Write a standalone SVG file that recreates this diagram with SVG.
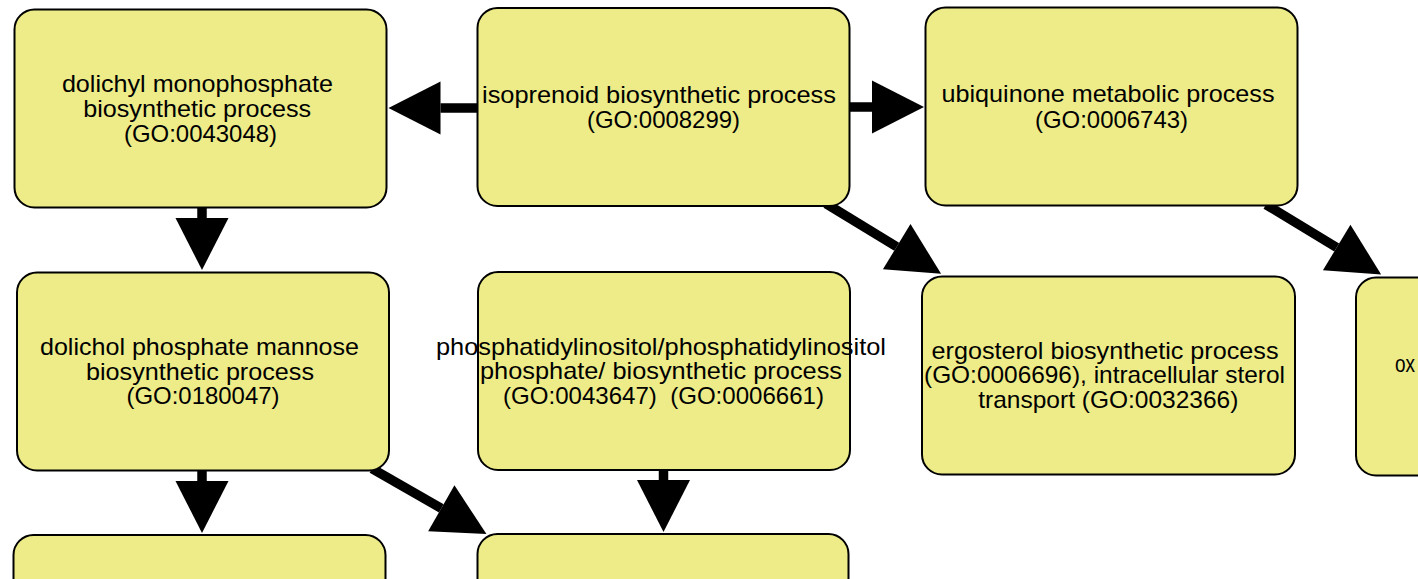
<svg xmlns="http://www.w3.org/2000/svg" width="1418" height="579" viewBox="0 0 1418 579">
  <style>
    .node rect { fill: #EDEC88; stroke: #000; stroke-width: 2; }
    .node text { font-family: "Liberation Sans", Arial, sans-serif; font-size: 24px; fill: #000; text-anchor: middle; }
    .edge { stroke: #000; stroke-width: 9.5; fill: none; marker-end: url(#arrow); }
  </style>
  <defs>
    <marker id="arrow" markerUnits="userSpaceOnUse" markerWidth="52" markerHeight="53" viewBox="0 -26.5 52 53" refX="0" refY="0" orient="auto" overflow="visible">
      <path d="M0,-26.5 L52,0 L0,26.5 Z" fill="#000"/>
    </marker>
  </defs>
  <rect x="0" y="0" width="1418" height="579" fill="#FFFFFF"/>
  <g id="connectors">
    <path class="edge" d="M480,108 L440.5,108"/>
    <path class="edge" d="M846,107 L872,107"/>
    <path class="edge" d="M202,204 L202,218"/>
    <path class="edge" d="M202,467 L202,481"/>
    <path class="edge" d="M663.5,467 L663.5,480"/>
    <path class="edge" d="M372,468.7 L441.3,508.3"/>
    <path class="edge" d="M826,203.6 L896.7,246.7"/>
    <path class="edge" d="M1266,204.6 L1336.7,247.5"/>
  </g>
  <g id="n_dolichyl_monophosphate" class="node">
    <rect x="14.5" y="9.5" width="372" height="198" rx="20"/>
    <text x="197.4" y="92" textLength="271" lengthAdjust="spacingAndGlyphs">dolichyl monophosphate</text>
    <text x="197.2" y="117" textLength="228" lengthAdjust="spacingAndGlyphs">biosynthetic process</text>
    <text x="200.5" y="141.5" textLength="153" lengthAdjust="spacingAndGlyphs">(GO:0043048)</text>
  </g>
  <g id="n_isoprenoid" class="node">
    <rect x="477.5" y="8" width="372" height="198" rx="20"/>
    <text x="659" y="102.5" textLength="354" lengthAdjust="spacingAndGlyphs">isoprenoid biosynthetic process</text>
    <text x="663.5" y="128" textLength="153" lengthAdjust="spacingAndGlyphs">(GO:0008299)</text>
  </g>
  <g id="n_ubiquinone" class="node">
    <rect x="925.5" y="7.5" width="372" height="198" rx="20"/>
    <text x="1108" y="102" textLength="333" lengthAdjust="spacingAndGlyphs">ubiquinone metabolic process</text>
    <text x="1111.5" y="127.5" textLength="153" lengthAdjust="spacingAndGlyphs">(GO:0006743)</text>
  </g>
  <g id="n_dolichol_phosphate_mannose" class="node">
    <rect x="17" y="272.5" width="372" height="198" rx="20"/>
    <text x="199.5" y="355" textLength="319" lengthAdjust="spacingAndGlyphs">dolichol phosphate mannose</text>
    <text x="200" y="379.5" textLength="228" lengthAdjust="spacingAndGlyphs">biosynthetic process</text>
    <text x="203" y="404" textLength="153" lengthAdjust="spacingAndGlyphs">(GO:0180047)</text>
  </g>
  <g id="n_phosphatidylinositol" class="node">
    <rect x="478" y="272" width="372" height="198" rx="20"/>
    <text x="661" y="354.5" textLength="450" lengthAdjust="spacingAndGlyphs">phosphatidylinositol/phosphatidylinositol</text>
    <text x="661" y="379" textLength="362" lengthAdjust="spacingAndGlyphs">phosphate/ biosynthetic process</text>
    <text x="663.5" y="403.5" textLength="321" lengthAdjust="spacingAndGlyphs">(GO:0043647)&#160; (GO:0006661)</text>
  </g>
  <g id="n_ergosterol" class="node">
    <rect x="922" y="276.5" width="373" height="198" rx="20"/>
    <text x="1105" y="358.5" textLength="347" lengthAdjust="spacingAndGlyphs">ergosterol biosynthetic process</text>
    <text x="1104.5" y="383" textLength="361" lengthAdjust="spacingAndGlyphs">(GO:0006696), intracellular sterol</text>
    <text x="1108.3" y="407.5" textLength="260" lengthAdjust="spacingAndGlyphs">transport (GO:0032366)</text>
  </g>
  <g id="n_ox" class="node">
    <rect x="1356" y="277.5" width="140" height="198" rx="20"/>
    <text x="1395" y="372" textLength="20" lengthAdjust="spacingAndGlyphs" style="text-anchor:start">ox</text>
  </g>
  <g id="n_bottom_left" class="node">
    <rect x="13.5" y="535" width="372" height="198" rx="20"/>
  </g>
  <g id="n_bottom_mid" class="node">
    <rect x="477.5" y="534" width="371" height="198" rx="20"/>
  </g>
</svg>
